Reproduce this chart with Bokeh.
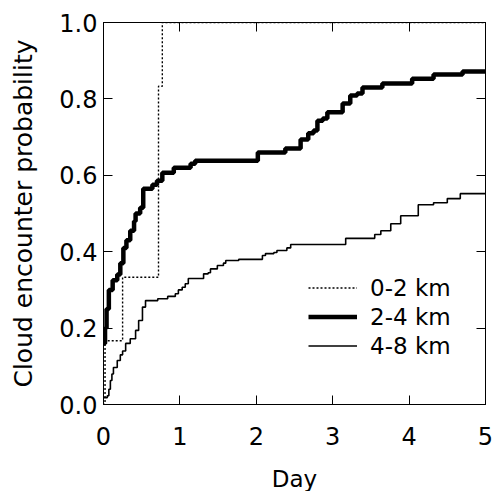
from bokeh.plotting import figure
from bokeh.models import (Range1d, LinearAxis, Legend, LegendItem, NumeralTickFormatter,
                          FixedTicker, CustomJSTickFormatter)
from bokeh.embed import file_html
from bokeh.resources import INLINE

# ---- data ----
x_02 = [0, 0.02, 0.25, 0.72, 0.77, 5.0]
y_02 = [0, 0.167, 0.333, 0.833, 1.0, 1.0]

x_24 = [0, 0.02, 0.04, 0.07, 0.12, 0.18, 0.22, 0.26, 0.30, 0.35, 0.40, 0.42, 0.48, 0.52,
        0.64, 0.70, 0.77, 0.92, 1.14, 1.20, 2.02, 2.38, 2.58, 2.68, 2.75, 2.80, 2.87,
        2.93, 3.13, 3.23, 3.32, 3.39, 3.65, 4.04, 4.32, 4.70, 5.0]
y_24 = [0.16, 0.20, 0.25, 0.30, 0.325, 0.34, 0.37, 0.41, 0.43, 0.455, 0.48, 0.50, 0.515,
        0.565, 0.575, 0.586, 0.607, 0.62, 0.63, 0.638, 0.66, 0.67, 0.694, 0.71, 0.717,
        0.743, 0.749, 0.765, 0.788, 0.809, 0.814, 0.83, 0.84, 0.853, 0.864, 0.872, 0.872]

x_48 = [0, 0.05, 0.07, 0.09, 0.11, 0.13, 0.18, 0.22, 0.25, 0.29, 0.35, 0.42, 0.46, 0.51,
        0.55, 0.71, 0.84, 0.94, 0.98, 1.03, 1.07, 1.11, 1.31, 1.37, 1.40, 1.49, 1.57,
        1.60, 1.77, 2.08, 2.12, 2.23, 2.27, 2.40, 2.45, 3.17, 3.55, 3.63, 3.76, 3.89,
        4.12, 4.32, 4.50, 4.67, 5.0]
y_48 = [0.018, 0.023, 0.04, 0.063, 0.08, 0.097, 0.115, 0.13, 0.14, 0.16, 0.172, 0.194,
        0.22, 0.255, 0.272, 0.277, 0.283, 0.29, 0.30, 0.307, 0.316, 0.33, 0.342, 0.345,
        0.355, 0.364, 0.37, 0.377, 0.38, 0.39, 0.395, 0.398, 0.403, 0.41, 0.419, 0.435,
        0.445, 0.455, 0.473, 0.494, 0.523, 0.528, 0.539, 0.552, 0.552]

labels = ["0-2 km", "2-4 km", "4-8 km"]
x_ticks = [0, 1, 2, 3, 4, 5]
y_ticks = [0.0, 0.2, 0.4, 0.6, 0.8, 1.0]

FONT = "DejaVu Sans"

p = figure(frame_width=382, frame_height=382, output_backend="svg", toolbar_location=None,
           x_range=Range1d(0, 5), y_range=Range1d(0, 1),
           min_border_left=103, min_border_right=9, min_border_top=22, min_border_bottom=87)
p.xgrid.visible = False
p.ygrid.visible = False
p.outline_line_color = "black"
p.outline_line_width = 1
p.outline_line_alpha = 1

r1 = p.step(x_02, y_02, mode="after", line_color="black", line_width=1.4, line_dash="2 2")
r2 = p.step(x_24, y_24, mode="after", line_color="black", line_width=4.5)
r3 = p.step(x_48, y_48, mode="after", line_color="black", line_width=1.6)

def style(ax):
    ax.major_tick_in = 9
    ax.major_tick_out = 0
    ax.minor_tick_in = 0
    ax.minor_tick_out = 0
    ax.axis_line_color = "black"
    ax.major_tick_line_color = "black"
    ax.major_label_text_font = FONT
    ax.major_label_text_color = "black"
    ax.axis_label_text_font = FONT
    ax.axis_label_text_font_style = "normal"
    ax.axis_label_text_color = "black"

xa = p.xaxis[0]
ya = p.yaxis[0]
xa.ticker = FixedTicker(ticks=x_ticks)
ya.ticker = FixedTicker(ticks=y_ticks)
ya.formatter = NumeralTickFormatter(format="0.0")
style(xa)
style(ya)
xa.axis_label = "Day"
ya.axis_label = "Cloud encounter probability"
xa.major_label_text_font_size = "24px"
ya.major_label_text_font_size = "24px"
xa.axis_label_text_font_size = "23px"
ya.axis_label_text_font_size = "25px"
xa.major_label_standoff = 22
ya.major_label_standoff = 6
xa.axis_label_standoff = 18
ya.axis_label_standoff = 18

blank = CustomJSTickFormatter(code="return ''")
ra = LinearAxis(ticker=FixedTicker(ticks=y_ticks), formatter=blank)
ta = LinearAxis(ticker=FixedTicker(ticks=x_ticks), formatter=blank)
style(ra)
style(ta)
ra.major_label_standoff = 0
ta.major_label_standoff = 0
p.add_layout(ra, "right")
p.add_layout(ta, "above")

legend = Legend(items=[LegendItem(label=labels[0], renderers=[r1]),
                       LegendItem(label=labels[1], renderers=[r2]),
                       LegendItem(label=labels[2], renderers=[r3])],
                location=(205, 44), orientation="vertical")
legend.border_line_alpha = 0
legend.background_fill_alpha = 0
legend.padding = 0
legend.margin = 0
legend.spacing = 0
legend.glyph_width = 49
legend.glyph_height = 29
legend.label_height = 29
legend.label_standoff = 13
legend.label_text_font = FONT
legend.label_text_font_size = "23px"
legend.label_text_color = "black"
p.add_layout(legend, "center")

open("out.html", "w").write(file_html(p, INLINE))
